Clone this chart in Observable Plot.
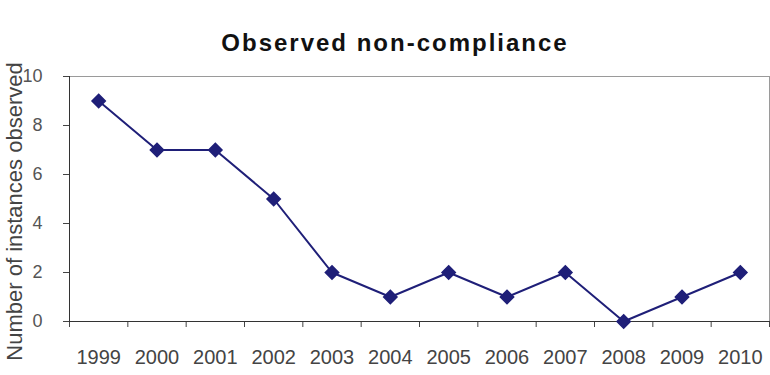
<!DOCTYPE html>
<html>
<head>
<meta charset="utf-8">
<script src="https://cdn.jsdelivr.net/npm/d3@7"></script>
<script src="https://cdn.jsdelivr.net/npm/@observablehq/plot@0.6"></script>
<style>
  html, body { margin: 0; padding: 0; background: #fff; }
  body { font-family: "Liberation Sans", Arial, sans-serif; width: 770px; }
  #title {
    box-sizing: border-box;
    height: 60px; width: 770px;
    padding-top: 31px; padding-left: 20px;
    text-align: center;
    font-size: 24px; line-height: 24px; font-weight: bold;
    letter-spacing: 2px; color: #111;
  }
  #chart svg { display: block; }
</style>
</head>
<body>
<div id="title">Observed non-compliance</div>
<div id="chart"></div>
<script>
const years = [1999, 2000, 2001, 2002, 2003, 2004, 2005, 2006, 2007, 2008, 2009, 2010];
const counts = [9, 7, 7, 5, 2, 1, 2, 1, 2, 0, 1, 2];
const yTicks = [0, 2, 4, 6, 8, 10];
const yLabel = "Number of instances observed";

const data = years.map((year, i) => ({ year, count: counts[i] }));
const bandEdges = years.map(y => y - 0.5).concat([years[years.length - 1] + 0.5]);

const navy = "#1f1f78";

const chart = Plot.plot({
  width: 770,
  height: 315,
  marginLeft: 69,
  marginRight: 1,
  marginTop: 16,
  marginBottom: 54,
  style: { fontFamily: "'Liberation Sans', Arial, sans-serif", background: "#fff", overflow: "visible" },
  x: { type: "linear", domain: [bandEdges[0], bandEdges[bandEdges.length - 1]] },
  y: { domain: [0, 10] },
  marks: [
    Plot.frame({ anchor: "top", stroke: "#9a9a9a" }),
    Plot.frame({ anchor: "right", stroke: "#9a9a9a" }),
    Plot.axisX({ ticks: bandEdges, tickFormat: () => "", tickSize: 6, stroke: "#444", label: null }),
    Plot.axisX({ ticks: years, tickFormat: d => String(d), tickSize: 0, tickPadding: 28, fontSize: 20, fill: "#444", label: null }),
    Plot.axisY({ ticks: yTicks, tickSize: 6, tickPadding: 21, fontSize: 18, fill: "#555", stroke: "#444", label: null }),
    Plot.frame({ anchor: "left", stroke: "#333" }),
    Plot.frame({ anchor: "bottom", stroke: "#333" }),
    Plot.line(data, { x: "year", y: "count", stroke: navy, strokeWidth: 2 }),
    Plot.dot(data, { x: "year", y: "count", symbol: "diamond2", r: 6, fill: navy, stroke: navy }),
    Plot.text([yLabel], { frameAnchor: "left", textAnchor: "middle", lineAnchor: "middle", rotate: -90, dx: -54.5, dy: 12.5, fontSize: 22, fill: "#444" })
  ]
});
document.getElementById("chart").appendChild(chart);
</script>
</body>
</html>
